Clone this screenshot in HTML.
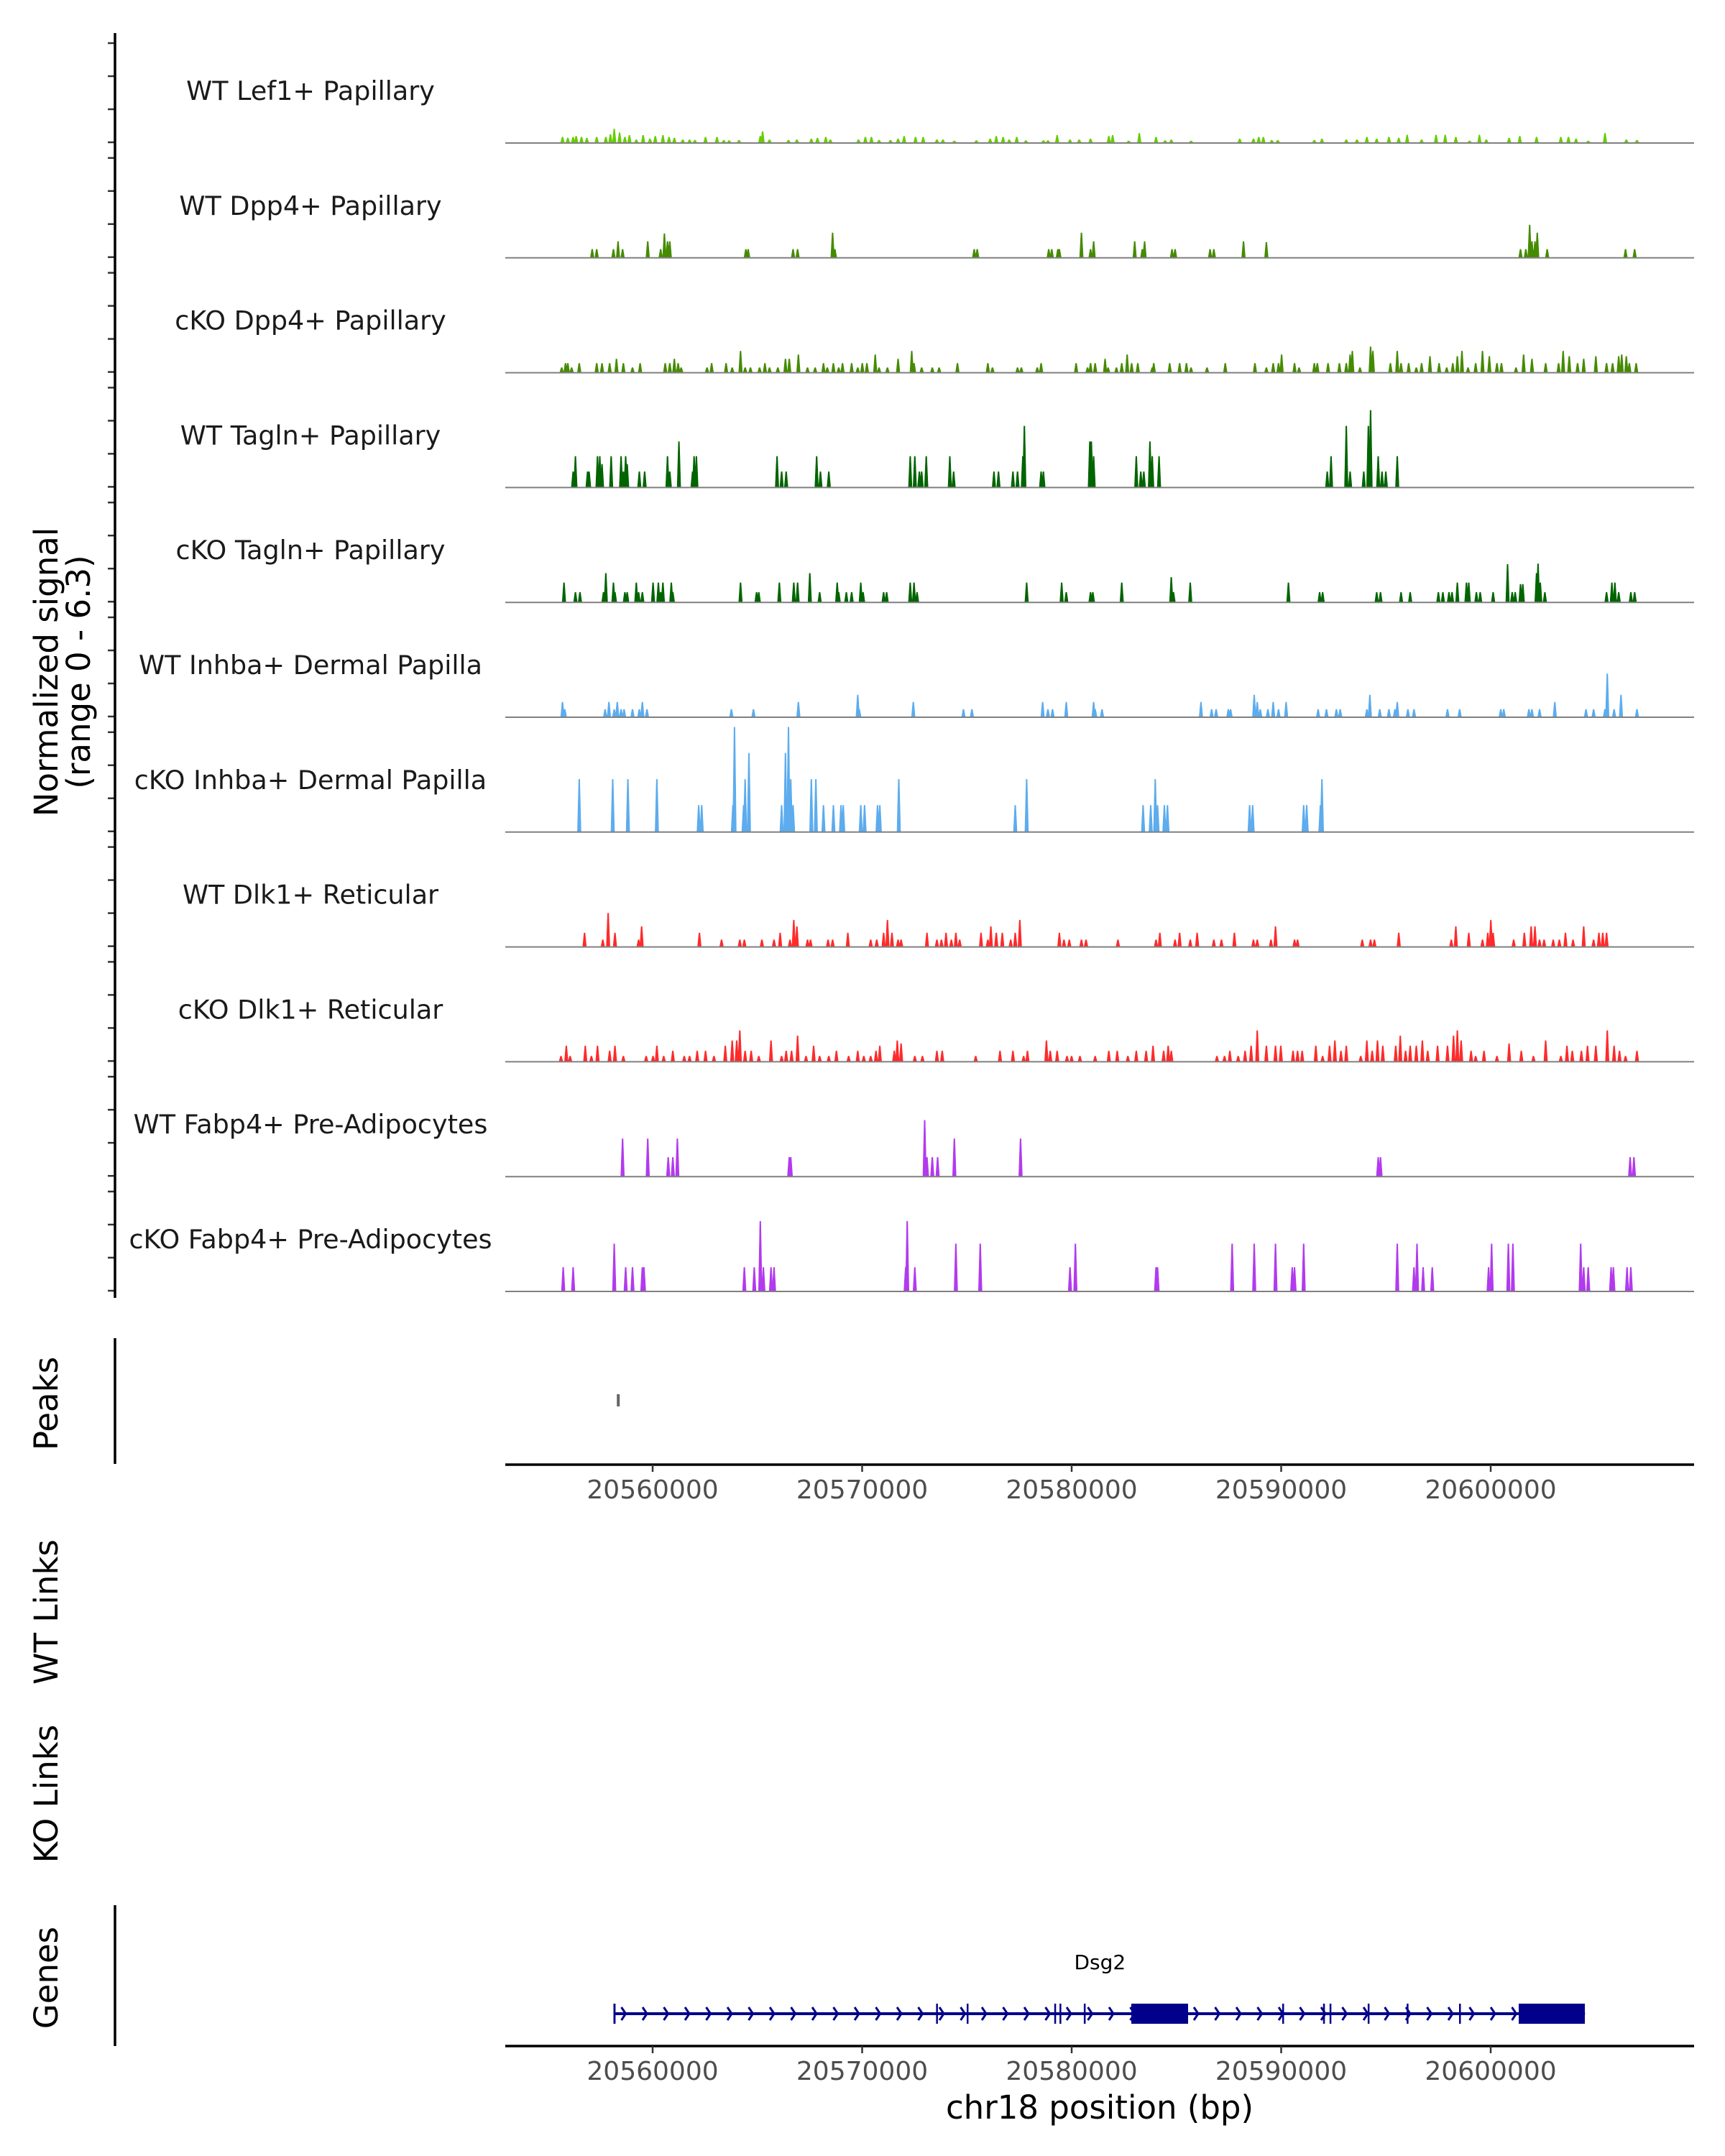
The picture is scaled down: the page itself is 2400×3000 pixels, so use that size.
<!DOCTYPE html>
<html><head><meta charset="utf-8"><style>
html,body{margin:0;padding:0;background:#fff}
svg{display:block}
text{font-family:"DejaVu Sans","Liberation Sans",sans-serif}
</style></head><body>
<svg id="chart" width="2400" height="3000" viewBox="0 0 2400 3000" xmlns="http://www.w3.org/2000/svg">
<g id="tracks"></g>
<g id="axes"></g>
<g id="genes"></g>
<text transform="translate(80,935) rotate(-90)" text-anchor="middle" font-size="45" fill="#000">Normalized signal</text>
<text transform="translate(125,935) rotate(-90)" text-anchor="middle" font-size="45" fill="#000">(range 0 - 6.3)</text>
<text transform="translate(80,1953) rotate(-90)" text-anchor="middle" font-size="45" fill="#000">Peaks</text>
<text transform="translate(80,2243) rotate(-90)" text-anchor="middle" font-size="45" fill="#000">WT Links</text>
<text transform="translate(80,2496) rotate(-90)" text-anchor="middle" font-size="45" fill="#000">KO Links</text>
<text transform="translate(80,2752) rotate(-90)" text-anchor="middle" font-size="45" fill="#000">Genes</text>
<text x="1530" y="2948" text-anchor="middle" font-size="45" fill="#000">chr18 position (bp)</text>
</svg>
<script>
// ---- data ----
const REGION_START = 20552864;   // bp of first coverage bin
const BIN_SIZE = 36.32;          // bp per coverage bin
const trackNames = ["WT Lef1+ Papillary","WT Dpp4+ Papillary","cKO Dpp4+ Papillary","WT Tagln+ Papillary","cKO Tagln+ Papillary","WT Inhba+ Dermal Papilla","cKO Inhba+ Dermal Papilla","WT Dlk1+ Reticular","cKO Dlk1+ Reticular","WT Fabp4+ Pre-Adipocytes","cKO Fabp4+ Pre-Adipocytes"];
const trackColors = ["#66cd00","#458b00","#458b00","#006400","#006400","#5cacee","#5cacee","#ff2a2a","#ff2a2a","#b23aee","#b23aee"];

const lef1Bins = [78,85,92,96,103,110,123,135,141,146,153,160,166,175,184,193,200,210,218,225,236,245,252,266,281,290,297,310,338,341,350,375,386,405,413,424,430,467,476,484,494,509,519,527,542,552,570,578,593,622,640,648,657,665,675,687,710,716,728,745,757,772,796,801,822,836,858,870,878,904,968,986,993,999,1010,1018,1066,1076,1108,1122,1135,1148,1164,1177,1188,1207,1226,1238,1252,1270,1283,1292,1322,1336,1358,1390,1400,1410,1426,1448,1476,1490];
const lef1Vals = [.3,.25,.3,.35,.3,.25,.3,.3,.45,.76,.55,.3,.4,.15,.4,.2,.35,.4,.3,.25,.15,.15,.12,.3,.3,.12,.1,.12,.35,.62,.15,.12,.15,.2,.25,.3,.15,.15,.3,.3,.12,.12,.2,.35,.3,.3,.15,.15,.08,.1,.2,.35,.3,.15,.3,.1,.1,.1,.4,.15,.15,.2,.35,.4,.08,.52,.3,.1,.15,.08,.2,.2,.3,.3,.12,.12,.12,.2,.15,.15,.3,.2,.3,.25,.42,.15,.42,.42,.3,.08,.42,.15,.25,.35,.3,.3,.3,.2,.08,.52,.15,.12];

const wtDpp4Bins = [117,123,145,151,157,190,207,212,216,219,319,322,381,387,433,436,619,623,717,721,729,731,760,772,776,830,840,843,879,883,929,934,973,1003,1337,1344,1349,1352,1356,1359,1372,1475,1487];
const wtDpp4Vals = [.45,.45,.45,.9,.45,.9,.45,1.35,.9,.9,.45,.45,.45,.45,1.4,.45,.45,.45,.45,.45,.45,.45,1.4,.45,.9,.9,.45,.9,.45,.45,.45,.45,.9,.85,.45,.45,1.85,.9,.9,1.4,.45,.45,.45];

const koDpp4Bins = [77,82,85,90,100,123,130,140,149,158,170,180,213,219,225,230,234,268,274,293,301,312,318,325,337,344,350,361,371,376,388,400,410,421,426,434,441,446,458,466,472,478,489,494,505,519,537,540,550,564,573,597,637,643,676,681,702,707,753,768,772,778,791,795,806,813,820,826,834,853,855,876,889,898,904,925,949,988,1003,1012,1019,1023,1040,1046,1066,1070,1084,1099,1108,1113,1116,1126,1140,1143,1166,1175,1180,1190,1200,1207,1218,1230,1240,1248,1254,1260,1268,1278,1287,1296,1306,1312,1331,1341,1352,1370,1387,1393,1401,1412,1420,1436,1450,1458,1466,1470,1476,1480,1489];
const koDpp4Vals = [.25,.5,.5,.25,.5,.5,.5,.5,.75,.5,.25,.5,.5,.5,.75,.5,.25,.25,.5,.5,.25,1.2,.25,.25,.25,.5,.25,.25,.75,.75,1.0,.25,.25,.5,.25,.5,.25,.5,.5,.25,.5,.5,1.0,.25,.25,.75,1.2,.5,.25,.25,.25,.5,.5,.25,.25,.25,.25,.5,.5,.25,.5,.5,.75,.25,.25,.5,1.0,.5,.5,.25,.5,.5,.5,.5,.25,.25,.5,.5,.25,.5,.5,1.0,.5,.25,.5,.5,.5,.5,.5,1.0,1.2,.25,1.45,1.2,.5,1.2,.5,.5,.25,.5,.9,.5,.25,.5,.9,1.2,.25,.5,1.2,.9,.5,.5,.25,1.0,.75,.5,.5,1.2,.9,.5,.75,.9,.5,.5,.9,1.0,.9,.5,.5];

const wtTaglnBins = [92,95,111,113,124,127,130,142,155,158,161,163,179,186,216,219,231,249,251,254,360,366,372,412,417,428,535,541,547,550,556,587,592,645,651,670,676,683,685,707,710,771,773,776,832,838,842,850,853,862,1083,1088,1108,1113,1131,1137,1140,1150,1155,1160,1175];
const wtTaglnVals = [.87,1.75,.87,.87,1.75,1.75,1.3,1.75,1.75,.87,1.75,1.3,.87,.87,1.75,.87,2.6,.87,1.75,1.75,1.75,.87,.87,1.75,.87,.87,1.75,1.75,.87,.87,1.75,1.75,.87,.87,.87,.87,.87,1.75,3.5,.87,.87,2.6,2.6,1.75,1.75,.87,.87,2.6,1.75,1.75,.87,1.75,3.5,.87,.87,3.5,4.4,1.75,.87,.87,1.75];

const koTaglnBins = [80,95,101,132,135,145,147,160,163,175,178,183,197,204,207,210,221,223,312,333,336,363,382,387,403,416,439,441,451,458,470,473,500,504,535,540,544,688,734,740,772,775,813,878,881,903,1032,1073,1077,1148,1153,1180,1192,1229,1235,1243,1247,1254,1266,1269,1279,1284,1301,1320,1326,1330,1337,1340,1358,1360,1363,1369,1450,1457,1461,1466,1482,1487];
const koTaglnVals = [1.09,.54,.54,.54,1.63,1.09,.54,.54,.54,1.09,.54,.54,1.09,1.09,.54,1.09,1.09,.54,1.09,.54,.54,1.09,1.09,1.09,1.63,.54,1.09,.54,.54,.54,1.09,.54,.54,.54,1.09,1.09,.54,1.09,1.09,.54,.54,.54,1.09,1.4,.54,1.09,1.09,.54,.54,.54,.54,.54,.54,.54,.54,.54,.54,1.09,1.09,1.09,.54,.54,.54,2.15,.54,.54,1.0,1.0,1.63,2.18,1.09,.54,.54,1.09,1.09,.54,.54,.54];

const wtInhbaBins = [78,81,134,139,146,150,155,159,170,179,183,189,300,329,388,466,468,539,605,616,709,716,722,740,776,778,787,917,931,937,953,956,987,991,995,1005,1012,1019,1029,1071,1082,1095,1100,1135,1139,1152,1164,1172,1175,1189,1197,1241,1257,1311,1315,1348,1352,1362,1382,1423,1433,1448,1451,1460,1469,1490];
const wtInhbaVals = [.83,.41,.41,.83,.41,.83,.41,.41,.41,.41,.83,.41,.41,.41,.83,1.24,.41,.83,.41,.41,.83,.41,.41,.83,.83,.41,.41,.83,.41,.41,.41,.41,1.24,.83,.41,.41,.83,.41,.83,.41,.41,.41,.41,.41,1.24,.41,.41,.41,.83,.41,.41,.41,.41,.41,.41,.41,.41,.41,.83,.41,.41,.41,2.46,.41,1.24,.41];

const koInhbaBins = [100,144,164,202,257,261,302,304,316,318,323,366,371,375,378,381,405,411,421,434,444,447,470,475,492,495,520,673,688,841,851,857,860,869,873,981,985,1052,1056,1074,1076];
const koInhbaVals = [3,3,3,3,1.5,1.5,1.5,6,1.5,3,4.5,1.5,4.5,6,3,1.5,3,3,1.5,1.5,1.5,1.5,1.5,1.5,1.5,1.5,3,1.5,3,1.5,1.5,3,1.5,1.5,1.5,1.5,1.5,1.5,1.5,1.5,3];

const wtDlk1Bins = [107,131,138,147,178,182,258,287,311,317,340,356,364,377,382,386,400,404,427,433,453,483,491,500,505,511,519,523,557,570,576,582,589,595,600,628,637,641,648,656,667,673,679,731,737,744,760,766,808,858,863,883,889,903,912,934,944,961,986,991,1009,1015,1040,1044,1129,1140,1145,1177,1246,1252,1269,1287,1294,1298,1301,1328,1342,1351,1356,1362,1368,1380,1388,1396,1406,1420,1433,1440,1445,1450];
const wtDlk1Vals = [.76,.37,1.9,.76,.37,1.13,.76,.37,.37,.37,.37,.37,.76,.37,1.5,1.13,.37,.37,.37,.37,.76,.37,.37,.76,1.5,.76,.37,.37,.76,.37,.37,.76,.37,.76,.37,.76,.37,1.13,.76,.76,.37,.76,1.5,.76,.37,.37,.37,.37,.37,.37,.76,.37,.76,.37,.76,.37,.37,.76,.37,.37,.37,1.13,.37,.37,.37,.37,.37,.76,.37,1.13,.76,.37,.76,1.5,.76,.37,.76,1.13,1.13,.37,.37,.37,.37,.76,.37,1.13,.37,.76,.76,.76];

const koDlk1Bins = [76,83,88,108,116,124,140,147,158,188,197,202,211,223,238,245,255,266,277,292,301,307,311,318,326,336,352,366,372,379,387,398,408,416,428,438,454,466,474,483,490,495,514,518,523,541,551,570,577,621,653,670,684,689,714,719,728,741,747,758,778,796,807,821,832,845,854,868,874,878,938,948,955,966,975,983,991,1003,1015,1022,1038,1044,1050,1068,1077,1086,1093,1101,1108,1127,1135,1142,1149,1156,1173,1179,1186,1192,1200,1208,1215,1228,1241,1249,1254,1259,1272,1278,1289,1306,1322,1338,1354,1370,1390,1398,1405,1417,1425,1436,1451,1460,1467,1475,1490];
const koDlk1Vals = [.28,.87,.28,.87,.28,.87,.58,.87,.28,.28,.28,.87,.28,.58,.28,.28,.58,.58,.28,.87,1.17,1.17,1.75,.58,.58,.28,1.17,.28,.58,.58,1.45,.28,.87,.28,.28,.58,.28,.58,.28,.28,.58,.87,.58,1.17,1.0,.28,.28,.58,.58,.28,.58,.58,.28,.58,1.17,.58,.58,.28,.28,.28,.28,.58,.58,.28,.58,.58,.87,.58,.87,.58,.28,.28,.58,.28,.58,.87,1.75,.87,.87,.87,.58,.58,.58,.87,.28,.87,1.17,.58,.87,.28,1.17,.58,1.17,.87,.87,1.45,.58,.87,.87,1.17,.58,.87,.87,1.45,1.75,1.17,.58,.28,.58,.28,1.0,.58,.28,1.17,.28,.87,.58,.58,.87,.87,1.75,.87,.58,.28,.58];

const wtFabp4Bins = [157,190,217,223,229,376,378,554,557,564,571,593,680,1150,1153,1481,1486];
const wtFabp4Vals = [2.14,2.14,1.07,1.07,2.14,1.07,1.07,3.2,1.07,1.07,1.07,2.14,2.14,1.07,1.07,1.07,1.07];

const koFabp4Bins = [79,92,146,161,170,183,185,317,330,338,342,352,356,529,531,541,595,627,745,752,858,860,958,987,1015,1037,1040,1052,1175,1197,1201,1209,1221,1295,1299,1321,1327,1416,1420,1426,1456,1459,1477,1482];
const koFabp4Vals = [1.34,1.34,2.7,1.34,1.34,1.34,1.34,1.34,1.34,4.0,1.34,1.34,1.34,1.34,4.0,1.34,2.7,2.7,1.34,2.7,1.34,1.34,2.7,2.7,2.7,1.34,1.34,2.7,2.7,1.34,2.7,1.34,1.34,1.34,2.7,2.7,2.7,2.7,1.34,1.34,1.34,1.34,1.34,1.34];

const allBins = [lef1Bins,wtDpp4Bins,koDpp4Bins,wtTaglnBins,koTaglnBins,wtInhbaBins,koInhbaBins,wtDlk1Bins,koDlk1Bins,wtFabp4Bins,koFabp4Bins];
const allVals = [lef1Vals,wtDpp4Vals,koDpp4Vals,wtTaglnVals,koTaglnVals,wtInhbaVals,koInhbaVals,wtDlk1Vals,koDlk1Vals,wtFabp4Vals,koFabp4Vals];

const xTicks = [20560000,20570000,20580000,20590000,20600000];
const xTickLabels = ["20560000","20570000","20580000","20590000","20600000"];
const peakStarts = [20558300];
const peakEnds = [20558420];
const geneName = "Dsg2";
const geneStart = 20558200;
const geneEnd = 20604500;
const exonStarts = [20558130,20573530,20574990,20579170,20579420,20580580,20582846,20590050,20592000,20592310,20594130,20595990,20598490,20601337];
const exonEnds = [20558230,20573570,20575060,20579250,20579490,20580650,20585557,20590120,20592080,20592390,20594200,20596060,20598560,20604494];

// ---- scales ----
const X0 = 703, X1 = 2357, BP0 = 20552967, PX_PER_BP = 0.02915;
function xScale(bp){ return X0 + (bp - BP0) * PX_PER_BP; }
function binToBp(b){ return REGION_START + b * BIN_SIZE; }
const TRACK_BASE0 = 198, TRACK_STEP = 159.8, PX_PER_UNIT = 24.15;
function yScale(i, v){ return TRACK_BASE0 + i*TRACK_STEP - v*PX_PER_UNIT; }

const NS = "http://www.w3.org/2000/svg";
function mk(tag, attrs, parent){ const e=document.createElementNS(NS,tag); for(const k in attrs) e.setAttribute(k,attrs[k]); parent.appendChild(e); return e; }

const tracks = document.getElementById('tracks');
const axes = document.getElementById('axes');
const genes = document.getElementById('genes');

for(let i=0;i<trackNames.length;i++){
  const g = mk('g',{},tracks);
  
  
  const base = yScale(i,0);
  const lab = mk('text',{x:432,y:base-59,'text-anchor':'middle','font-size':36.5,fill:'#1a1a1a'},g);
  lab.textContent = trackNames[i];
  
  
  const bins = allBins[i], vals = allVals[i];
  let d = '';
  for(let j=0;j<bins.length;j++){
    const v = vals[j] === undefined ? 0.3 : vals[j];
    const x = xScale(binToBp(bins[j]));
    const y = yScale(i, v);
    d += `M${(x-2.5).toFixed(1)},${base}L${(x-0.7).toFixed(1)},${y.toFixed(1)}L${(x+0.7).toFixed(1)},${y.toFixed(1)}L${(x+2.5).toFixed(1)},${base}Z`;
  }
  const p = mk('path',{d:d,fill:trackColors[i],stroke:trackColors[i],'stroke-width':0.6},g);
  
  
  const bl = mk('line',{x1:X0,x2:X1,y1:base+1,y2:base+1,stroke:'#808080','stroke-width':2},g);
  
  
  for(let k=0;k<4;k++){
    const ty = base - k*46;
    const t = mk('line',{x1:150,x2:160,y1:ty,y2:ty,stroke:'#333','stroke-width':2.5},axes);
    
    
  }
}
const ya = mk('line',{x1:160,x2:160,y1:46,y2:1806,stroke:'#000','stroke-width':3.5},axes);


const pa = mk('line',{x1:160,x2:160,y1:1862,y2:2037,stroke:'#000','stroke-width':3.5},axes);


const ga = mk('line',{x1:160,x2:160,y1:2651,y2:2847,stroke:'#000','stroke-width':3.5},axes);



for(let i=0;i<peakStarts.length;i++){
  const xm = xScale((peakStarts[i]+peakEnds[i])/2);
  const pk = mk('line',{x1:xm,x2:xm,y1:1940,y2:1957,stroke:'#666','stroke-width':4},axes);
  
  
}

[[2038,'peaks-x-axis'],[2847,'genes-x-axis']].forEach(([ay,nm])=>{
  const g = mk('g',{},axes);
  
  
  mk('line',{x1:X0,x2:X1,y1:ay,y2:ay,stroke:'#000','stroke-width':3.5},g);
  xTicks.forEach((t,k)=>{
    const x = xScale(t);
    const tk = mk('line',{x1:x,x2:x,y1:ay,y2:ay+10,stroke:'#333','stroke-width':2.5},g);
    
    
    const tl = mk('text',{x:x,y:ay+47,'text-anchor':'middle','font-size':36,fill:'#4d4d4d'},g);
    tl.textContent = xTickLabels[k];
    
    
  });
});

const GY = 2802;
const gs = xScale(geneStart), ge = xScale(geneEnd);
const gl = mk('line',{x1:gs,x2:ge,y1:GY,y2:GY,stroke:'#00008b','stroke-width':4},genes);


for(let x=gs+12; x<ge-4; x+=29.5){
  const ch = mk('polyline',{points:`${x-3},${GY-9} ${x+3},${GY} ${x-3},${GY+9}`,fill:'none',stroke:'#00008b','stroke-width':3},genes);
  
  
}
for(let i=0;i<exonStarts.length;i++){
  const x1 = xScale(exonStarts[i]), x2 = xScale(exonEnds[i]);
  const ex = mk('rect',{x:x1,y:GY-14,width:Math.max(x2-x1,2.5),height:28,fill:'#00008b'},genes);
  
  
}
const gn = mk('text',{x:xScale((geneStart+geneEnd)/2),y:2740,'text-anchor':'middle','font-size':28,fill:'#000'},genes);
gn.textContent = geneName;


</script>
</body></html>
